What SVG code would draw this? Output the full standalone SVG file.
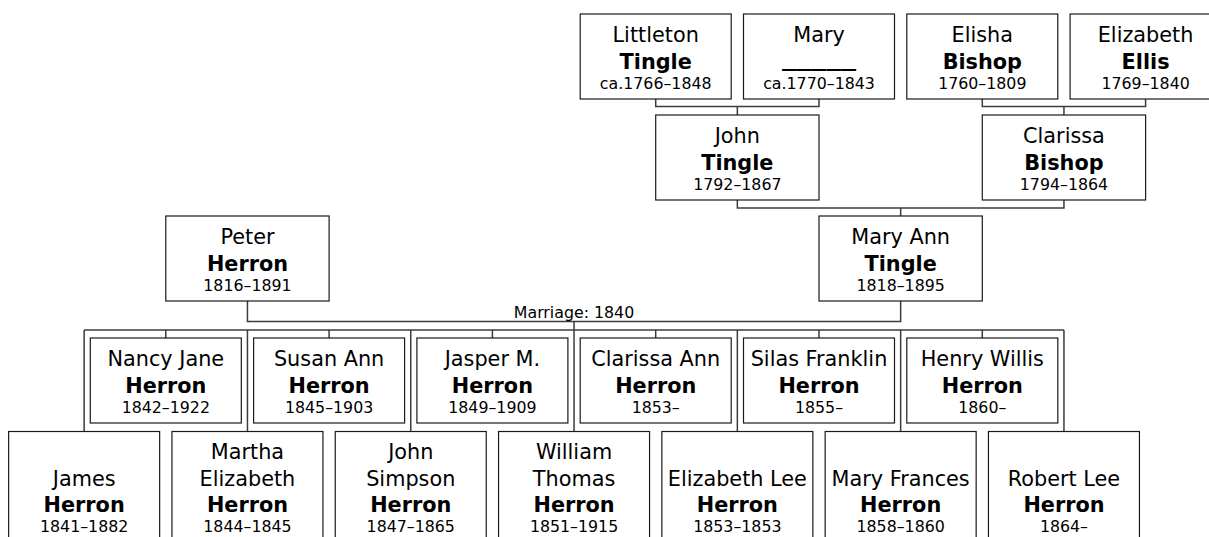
<svg xmlns="http://www.w3.org/2000/svg" width="1209" height="537" viewBox="0 0 1209 537">
<style>
  .box { fill: #ffffff; stroke: #1a1a1a; stroke-width: 1.2; }
  .conn { fill: none; stroke: #3c3c3c; stroke-width: 1.5; }
  text { font-family: "DejaVu Sans", Verdana, sans-serif; text-anchor: middle; fill: #000000; }
  .nm { font-size: 20.8px; }
  .sn { font-size: 20.8px; font-weight: bold; }
  .dt { font-size: 15.8px; }
  .lbl { font-size: 15.8px; }
</style>
<rect width="1209" height="537" fill="#ffffff"/>

<g id="connectors">
  <path class="conn" d="M655.7 99 V106.5 H819 V99 M737.35 106.5 V115"/>
  <path class="conn" d="M982.3 99 V106.5 H1145.6 V99 M1063.95 106.5 V115"/>
  <path class="conn" d="M737.35 200 V208 H1063.95 V200 M900.65 208 V216"/>
  <path class="conn" d="M247.45 301 V321.5 H900.65 V301 M574.05 321.5 V330"/>
  <path class="conn" d="M84.15 330 H1063.95"/>
  <path class="conn" d="M84.15 330 V431.5 M247.45 330 V431.5 M410.75 330 V431.5 M574.05 330 V431.5 M737.35 330 V431.5 M900.65 330 V431.5 M1063.95 330 V431.5"/>
  <path class="conn" d="M165.8 330 V338 M329.1 330 V338 M492.4 330 V338 M655.7 330 V338 M819 330 V338 M982.3 330 V338"/>
  <text class="lbl" x="574.05" y="318">Marriage: 1840</text>
</g>

<g id="littleton-tingle">
  <rect class="box" x="580.2" y="14" width="151" height="85"/>
  <text class="nm" x="655.7" y="42">Littleton</text>
  <text class="sn" x="655.7" y="68.5">Tingle</text>
  <text class="dt" x="655.7" y="89">ca.1766–1848</text>
</g>
<g id="mary">
  <rect class="box" x="743.5" y="14" width="151" height="85"/>
  <text class="nm" x="819" y="42">Mary</text>
  <text class="sn" x="819" y="66" textLength="74" lengthAdjust="spacingAndGlyphs">_____</text>
  <text class="dt" x="819" y="89">ca.1770–1843</text>
</g>
<g id="elisha-bishop">
  <rect class="box" x="906.8" y="14" width="151" height="85"/>
  <text class="nm" x="982.3" y="42">Elisha</text>
  <text class="sn" x="982.3" y="68.5">Bishop</text>
  <text class="dt" x="982.3" y="89">1760–1809</text>
</g>
<g id="elizabeth-ellis">
  <rect class="box" x="1070.1" y="14" width="151" height="85"/>
  <text class="nm" x="1145.6" y="42">Elizabeth</text>
  <text class="sn" x="1145.6" y="68.5">Ellis</text>
  <text class="dt" x="1145.6" y="89">1769–1840</text>
</g>

<g id="john-tingle">
  <rect class="box" x="655.7" y="115" width="163.3" height="85"/>
  <text class="nm" x="737.35" y="143">John</text>
  <text class="sn" x="737.35" y="169.5">Tingle</text>
  <text class="dt" x="737.35" y="190">1792–1867</text>
</g>
<g id="clarissa-bishop">
  <rect class="box" x="982.3" y="115" width="163.3" height="85"/>
  <text class="nm" x="1063.95" y="143">Clarissa</text>
  <text class="sn" x="1063.95" y="169.5">Bishop</text>
  <text class="dt" x="1063.95" y="190">1794–1864</text>
</g>

<g id="peter-herron">
  <rect class="box" x="165.8" y="216" width="163.3" height="85"/>
  <text class="nm" x="247.45" y="244">Peter</text>
  <text class="sn" x="247.45" y="270.5">Herron</text>
  <text class="dt" x="247.45" y="291">1816–1891</text>
</g>
<g id="mary-ann-tingle">
  <rect class="box" x="819" y="216" width="163.3" height="85"/>
  <text class="nm" x="900.65" y="244">Mary Ann</text>
  <text class="sn" x="900.65" y="270.5">Tingle</text>
  <text class="dt" x="900.65" y="291">1818–1895</text>
</g>

<g id="nancy-jane-herron">
  <rect class="box" x="90.3" y="338" width="151" height="85"/>
  <text class="nm" x="165.8" y="366">Nancy Jane</text>
  <text class="sn" x="165.8" y="392.7">Herron</text>
  <text class="dt" x="165.8" y="413.3">1842–1922</text>
</g>
<g id="susan-ann-herron">
  <rect class="box" x="253.6" y="338" width="151" height="85"/>
  <text class="nm" x="329.1" y="366">Susan Ann</text>
  <text class="sn" x="329.1" y="392.7">Herron</text>
  <text class="dt" x="329.1" y="413.3">1845–1903</text>
</g>
<g id="jasper-herron">
  <rect class="box" x="416.9" y="338" width="151" height="85"/>
  <text class="nm" x="492.4" y="366">Jasper M.</text>
  <text class="sn" x="492.4" y="392.7">Herron</text>
  <text class="dt" x="492.4" y="413.3">1849–1909</text>
</g>
<g id="clarissa-ann-herron">
  <rect class="box" x="580.2" y="338" width="151" height="85"/>
  <text class="nm" x="655.7" y="366">Clarissa Ann</text>
  <text class="sn" x="655.7" y="392.7">Herron</text>
  <text class="dt" x="655.7" y="413.3">1853–</text>
</g>
<g id="silas-franklin-herron">
  <rect class="box" x="743.5" y="338" width="151" height="85"/>
  <text class="nm" x="819" y="366">Silas Franklin</text>
  <text class="sn" x="819" y="392.7">Herron</text>
  <text class="dt" x="819" y="413.3">1855–</text>
</g>
<g id="henry-willis-herron">
  <rect class="box" x="906.8" y="338" width="151" height="85"/>
  <text class="nm" x="982.3" y="366">Henry Willis</text>
  <text class="sn" x="982.3" y="392.7">Herron</text>
  <text class="dt" x="982.3" y="413.3">1860–</text>
</g>

<g id="james-herron">
  <rect class="box" x="8.65" y="431.5" width="151" height="120"/>
  <text class="nm" x="84.15" y="485.7">James</text>
  <text class="sn" x="84.15" y="512.3">Herron</text>
  <text class="dt" x="84.15" y="532.3">1841–1882</text>
</g>
<g id="martha-elizabeth-herron">
  <rect class="box" x="171.95" y="431.5" width="151" height="120"/>
  <text class="nm" x="247.45" y="459">Martha</text>
  <text class="nm" x="247.45" y="485.7">Elizabeth</text>
  <text class="sn" x="247.45" y="512.3">Herron</text>
  <text class="dt" x="247.45" y="532.3">1844–1845</text>
</g>
<g id="john-simpson-herron">
  <rect class="box" x="335.25" y="431.5" width="151" height="120"/>
  <text class="nm" x="410.75" y="459">John</text>
  <text class="nm" x="410.75" y="485.7">Simpson</text>
  <text class="sn" x="410.75" y="512.3">Herron</text>
  <text class="dt" x="410.75" y="532.3">1847–1865</text>
</g>
<g id="william-thomas-herron">
  <rect class="box" x="498.55" y="431.5" width="151" height="120"/>
  <text class="nm" x="574.05" y="459">William</text>
  <text class="nm" x="574.05" y="485.7">Thomas</text>
  <text class="sn" x="574.05" y="512.3">Herron</text>
  <text class="dt" x="574.05" y="532.3">1851–1915</text>
</g>
<g id="elizabeth-lee-herron">
  <rect class="box" x="661.85" y="431.5" width="151" height="120"/>
  <text class="nm" x="737.35" y="485.7">Elizabeth Lee</text>
  <text class="sn" x="737.35" y="512.3">Herron</text>
  <text class="dt" x="737.35" y="532.3">1853–1853</text>
</g>
<g id="mary-frances-herron">
  <rect class="box" x="825.15" y="431.5" width="151" height="120"/>
  <text class="nm" x="900.65" y="485.7">Mary Frances</text>
  <text class="sn" x="900.65" y="512.3">Herron</text>
  <text class="dt" x="900.65" y="532.3">1858–1860</text>
</g>
<g id="robert-lee-herron">
  <rect class="box" x="988.45" y="431.5" width="151" height="120"/>
  <text class="nm" x="1063.95" y="485.7">Robert Lee</text>
  <text class="sn" x="1063.95" y="512.3">Herron</text>
  <text class="dt" x="1063.95" y="532.3">1864–</text>
</g>
</svg>
